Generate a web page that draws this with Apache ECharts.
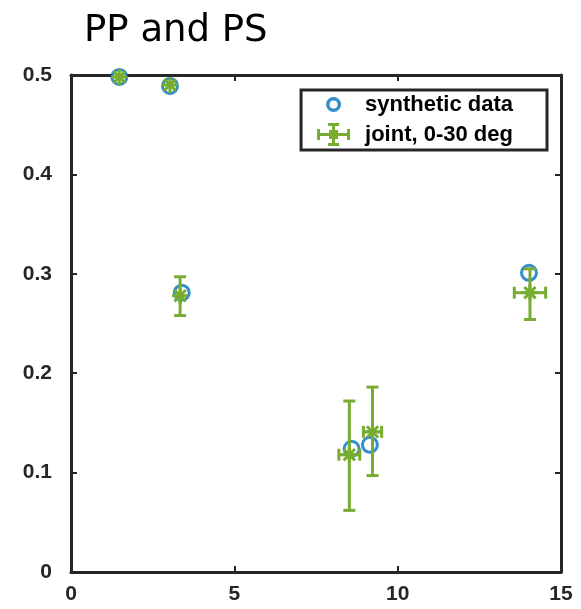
<!DOCTYPE html>
<html>
<head>
<meta charset="utf-8">
<script src="https://cdn.jsdelivr.net/npm/echarts@6/dist/echarts.min.js"></script>
<style>
  html, body { margin: 0; padding: 0; background: #fff; }
  #chart { width: 581px; height: 609px; }
</style>
</head>
<body>
<div id="chart"></div>
<script>
// synthetic data (blue circles)
const synthX = [1.48, 3.03, 3.39, 8.59, 9.15, 14.02];
const synthY = [0.498, 0.489, 0.281, 0.124, 0.128, 0.301];

// joint inversion, 0-30 deg: centre, x error, y error range
const jointX = [1.48, 3.03, 3.34, 8.52, 9.23, 14.05];
const jointY = [0.498, 0.490, 0.278, 0.118, 0.141, 0.281];
const jointXErr = [0, 0, 0, 0.32, 0.28, 0.48];
const jointYLo = [0.498, 0.490, 0.258, 0.062, 0.097, 0.254];
const jointYHi = [0.498, 0.490, 0.297, 0.172, 0.186, 0.305];

const GREEN = '#77AC30';
const BLUE = '#0072BD';
const AXIS = '#262626';

const chart = echarts.init(document.getElementById('chart'));

const jointData = jointX.map((x, i) => [x, jointY[i], x - jointXErr[i], x + jointXErr[i], jointYLo[i], jointYHi[i]]);

function renderJoint(params, api) {
  const c = api.coord([api.value(0), api.value(1)]);
  const xl = api.coord([api.value(2), api.value(1)]);
  const xr = api.coord([api.value(3), api.value(1)]);
  const yl = api.coord([api.value(0), api.value(4)]);
  const yh = api.coord([api.value(0), api.value(5)]);
  const style = { stroke: GREEN, lineWidth: 3, fill: null };
  const cap = 6;
  const children = [];
  function line(x1, y1, x2, y2) {
    children.push({ type: 'line', shape: { x1, y1, x2, y2 }, style });
  }
  if (yh[1] !== yl[1]) {
    line(c[0], yl[1], c[0], yh[1]);
    line(c[0] - cap, yl[1], c[0] + cap, yl[1]);
    line(c[0] - cap, yh[1], c[0] + cap, yh[1]);
  }
  if (xr[0] !== xl[0]) {
    line(xl[0], c[1], xr[0], c[1]);
    line(xl[0], c[1] - cap, xl[0], c[1] + cap);
    line(xr[0], c[1] - cap, xr[0], c[1] + cap);
  }
  // asterisk marker
  const r = 8;
  for (let k = 0; k < 4; k++) {
    const a = k * Math.PI / 4;
    line(c[0] - r * Math.cos(a), c[1] - r * Math.sin(a), c[0] + r * Math.cos(a), c[1] + r * Math.sin(a));
  }
  return { type: 'group', children };
}

// legend icons share a 43x23 box, tiny corner squares pin the box size
const anchors = ' M0,0h0.01v0.01h-0.01Z M42.99,22.99h0.01v0.01h-0.01Z';
const ringIcon = 'path://M9,11.5 A7.5,7.5 0 1,0 24,11.5 A7.5,7.5 0 1,0 9,11.5 Z M12.5,11.5 A4,4 0 1,1 20.5,11.5 A4,4 0 1,1 12.5,11.5 Z' + anchors;
const errIcon = 'path://M0,10h33v3h-33Z M0,6h3v11h-3Z M30,6h3v11h-3Z M15,0h3v23h-3Z M11,0h11v3h-11Z M11,20h11v3h-11Z M12,7h9v9h-9Z' + anchors;

const labelStyle = { color: AXIS, fontFamily: 'Arial, Liberation Sans', fontWeight: 'bold', fontSize: 21 };

function axisBase(pos, showLabel, margin) {
  return {
    type: 'value',
    position: pos,
    axisLine: { show: true, onZero: false, lineStyle: { color: AXIS, width: 3 } },
    axisTick: { show: true, inside: true, length: 6, lineStyle: { color: AXIS, width: 2 } },
    axisLabel: showLabel ? Object.assign({ margin }, labelStyle) : { show: false },
    splitLine: { show: false }
  };
}

const option = {
  animation: false,
  backgroundColor: '#fff',
  title: {
    text: 'PP and PS',
    left: 79,
    top: 8,
    textStyle: { fontFamily: 'DejaVu Sans', fontWeight: 'normal', fontSize: 37, color: '#000' }
  },
  grid: { left: 71, right: 20, top: 75, bottom: 37 },
  legend: {
    right: 34,
    top: 90,
    orient: 'vertical',
    backgroundColor: '#fff',
    borderColor: AXIS,
    borderWidth: 3,
    padding: [3, 34, 4, 16],
    itemGap: 7,
    itemWidth: 43,
    itemHeight: 23,
    textStyle: { color: '#000', fontFamily: 'Arial, Liberation Sans', fontWeight: 'bold', fontSize: 22 },
    data: [
      { name: 'synthetic data', icon: ringIcon, itemStyle: { color: BLUE, borderWidth: 0 } },
      { name: 'joint, 0-30 deg', icon: errIcon, itemStyle: { color: GREEN, borderWidth: 0 } }
    ]
  },
  xAxis: [
    Object.assign(axisBase('bottom', true, 12), { min: 0, max: 15, interval: 5 }),
    Object.assign(axisBase('top', false), { min: 0, max: 15, interval: 5 })
  ],
  yAxis: [
    Object.assign(axisBase('left', true, 19), { min: 0, max: 0.5, interval: 0.1 }),
    Object.assign(axisBase('right', false), { min: 0, max: 0.5, interval: 0.1 })
  ],
  series: [
    {
      name: 'synthetic data',
      type: 'scatter',
      symbol: 'circle',
      symbolSize: 15,
      itemStyle: { color: '#fff', borderColor: BLUE, borderWidth: 3 },
      data: synthX.map((x, i) => [x, synthY[i]]),
      z: 2
    },
    {
      name: 'joint, 0-30 deg',
      type: 'custom',
      renderItem: renderJoint,
      itemStyle: { color: GREEN },
      encode: { x: [0, 2, 3], y: [1, 4, 5] },
      data: jointData,
      clip: false,
      z: 3
    }
  ]
};

chart.setOption(option);
</script>
</body>
</html>
